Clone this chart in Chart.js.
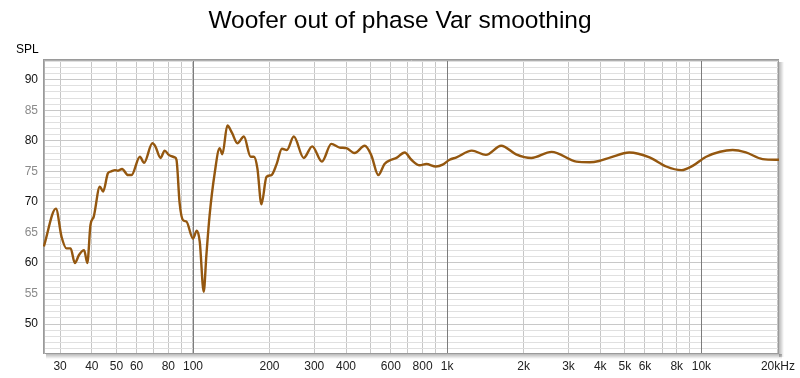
<!DOCTYPE html>
<html>
<head>
<meta charset="utf-8">
<script src="https://cdn.jsdelivr.net/npm/chart.js@4.4.1/dist/chart.umd.min.js"></script>
<style>
  html, body { margin: 0; padding: 0; background: #fff; }
  #wrap { width: 800px; height: 378px; }
</style>
</head>
<body>
<div id="wrap"><canvas id="chart" width="800" height="378"></canvas></div>
<script>
// frequency response
const freqs = [25.9, 28.9, 30.4, 31.8, 33.0, 34.3, 35.6, 37.3, 38.4, 39.5, 40.7, 43.0, 44.3, 46.3, 47.7,
  49.3, 50.7, 52.6, 55.5, 57.3, 61.8, 64.2, 69.2, 71.1, 74.5, 77.4, 80.3, 84.7, 86.1, 88.6, 91.4, 94.2,
  100, 103.5, 106.3, 110.2, 112.9, 116.3, 121.7, 127.3, 130.5, 136.5, 142.4, 149.5, 158.6, 168.6, 173.7,
  179.2, 185.9, 194.6, 203.6, 212.9, 223.9, 234, 249.2, 272.6, 294.5, 321.6, 350, 377.6, 401.3, 432.5,
  473.7, 502.5, 535.6, 566.8, 602.5, 631.6, 680.6, 723, 780, 828, 903, 960, 1022, 1088, 1250, 1420,
  1631, 1866, 2141, 2574, 3223, 3634, 3957, 4397, 5202, 6254, 7273, 8341, 9237, 10447, 13280, 14960,
  17410, 19600, 20200];
const spl = [62.7, 68.9, 64.3, 62.4, 62.4, 60.0, 61.3, 62.1, 60.0, 66.2, 67.6, 72.5, 71.7, 74.7, 75.0,
  75.2, 75.1, 75.4, 74.4, 74.4, 77.4, 76.4, 79.6, 79.1, 77.2, 78.4, 77.7, 77.3, 76.9, 69.8, 67.0, 66.8,
  64.0, 65.3, 63.5, 55.3, 61.3, 67.9, 74.7, 78.8, 77.8, 82.5, 81.3, 79.6, 80.7, 77.4, 77.4,
  75.5, 69.6, 74.1, 74.4, 76.1, 78.7, 78.5, 80.7, 77.2, 79.1, 76.6, 79.5, 78.9, 78.8, 78.0,
  79.2, 77.7, 74.4, 76.2, 76.9, 77.2, 78.1, 76.9, 76.0, 76.2, 75.8, 76.1, 76.9, 77.3, 78.4, 77.7,
  79.2, 77.8, 77.2, 78.2, 76.6, 76.5, 76.7, 77.3, 78.1, 77.3, 75.8, 75.2, 75.9, 77.4, 78.5, 78.1,
  77.0, 76.9, 76.9];

const xGridTicks = [30, 40, 50, 60, 70, 80, 90, 100, 200, 300, 400, 500, 600, 700, 800, 900,
  1000, 2000, 3000, 4000, 5000, 6000, 7000, 8000, 9000, 10000, 20000];
const decades = [100, 1000, 10000];
const xTickLabels = { 30: '30', 40: '40', 50: '50', 60: '60', 80: '80', 100: '100', 200: '200',
  300: '300', 400: '400', 600: '600', 800: '800', 1000: '1k', 2000: '2k', 3000: '3k', 4000: '4k',
  5000: '5k', 6000: '6k', 8000: '8k', 10000: '10k', 20000: '20kHz' };

const titleText = 'Woofer out of phase Var smoothing';
const yTitle = 'SPL';

const points = freqs.map((f, i) => ({ x: f, y: spl[i] }));

// title, axis caption, decade lines and the plot frame with its shadow
const framePlugin = {
  id: 'frame',
  beforeDatasetsDraw(chart) {
    const { ctx, chartArea: a } = chart;
    const xs = chart.scales.x;
    ctx.save();
    // decade lines on top of the light horizontal grid
    ctx.strokeStyle = '#7c7c7c';
    ctx.lineWidth = 1;
    ctx.beginPath();
    decades.forEach(d => {
      const px = Math.round(xs.getPixelForValue(d)) + 0.5;
      ctx.moveTo(px, a.top); ctx.lineTo(px, a.bottom);
    });
    ctx.stroke();
    // shadow right & bottom
    const sr = ctx.createLinearGradient(a.right, 0, a.right + 5, 0);
    sr.addColorStop(0, 'rgba(0,0,0,0.28)');
    sr.addColorStop(1, 'rgba(0,0,0,0)');
    ctx.fillStyle = sr;
    ctx.fillRect(a.right, a.top + 3, 5, a.bottom - a.top);
    const sb = ctx.createLinearGradient(0, a.bottom, 0, a.bottom + 5);
    sb.addColorStop(0, 'rgba(0,0,0,0.28)');
    sb.addColorStop(1, 'rgba(0,0,0,0)');
    ctx.fillStyle = sb;
    ctx.fillRect(a.left + 3, a.bottom, a.right - a.left, 5);
    ctx.strokeStyle = '#9a9a9a';
    ctx.strokeRect(a.left + 0.5, a.top + 0.5, a.right - a.left - 1, a.bottom - a.top - 1);
    ctx.strokeStyle = '#b0b0b0';
    ctx.beginPath();
    ctx.moveTo(a.left + 1.5, a.top + 1); ctx.lineTo(a.left + 1.5, a.bottom);
    ctx.moveTo(a.left + 1, a.top + 1.5); ctx.lineTo(a.right, a.top + 1.5);
    ctx.stroke();
    ctx.restore();
  },
  afterDraw(chart) {
    const { ctx } = chart;
    ctx.save();
    ctx.fillStyle = '#000';
    ctx.textAlign = 'center';
    ctx.textBaseline = 'middle';
    ctx.font = '24.5px "Liberation Sans", Arial, sans-serif';
    ctx.fillText(titleText, 400, 21);
    ctx.textAlign = 'left';
    ctx.font = '12px "Liberation Sans", Arial, sans-serif';
    ctx.fillText(yTitle, 16, 50);
    ctx.restore();
  }
};

const ctx = document.getElementById('chart').getContext('2d');
new Chart(ctx, {
  type: 'line',
  data: {
    datasets: [{
      data: points,
      borderColor: '#94570f',
      borderWidth: 2.4,
      pointRadius: 0,
      cubicInterpolationMode: 'monotone',
      fill: false,
    }],
  },
  options: {
    responsive: false,
    animation: false,
    events: [],
    layout: { padding: { top: 59, right: 21, left: 0, bottom: 0 } },
    plugins: { legend: { display: false }, tooltip: { enabled: false }, title: { display: false } },
    scales: {
      x: {
        type: 'logarithmic',
        min: 25.7,
        max: 20200,
        afterBuildTicks(scale) {
          scale.ticks = xGridTicks.map(v => ({ value: v }));
        },
        afterFit(scale) { scale.height = 24; },
        border: { display: false },
        grid: {
          drawTicks: false,
          color: '#c6c6c6',
          lineWidth: 1,
        },
        ticks: {
          autoSkip: false,
          maxRotation: 0,
          padding: 5,
          color: '#222',
          font: { family: '"Liberation Sans", Arial, sans-serif', size: 12 },
          callback: v => xTickLabels[v] || '',
        },
      },
      y: {
        min: 45.1,
        max: 93.4,
        afterFit(scale) { scale.width = 43; },
        border: { display: false },
        grid: {
          drawTicks: false,
          color: c => (c.tick && c.tick.value % 5 === 0 ? '#c8c8c8' : '#e0e0e0'),
          lineWidth: 1,
        },
        ticks: {
          stepSize: 1,
          includeBounds: false,
          autoSkip: false,
          padding: 5,
          color: c => (c.tick && c.tick.value % 10 === 0 ? '#111' : '#8a8a8a'),
          font: { family: '"Liberation Sans", Arial, sans-serif', size: 12 },
          callback: v => (v % 5 === 0 ? String(v) : ''),
        },
      },
    },
  },
  plugins: [framePlugin],
});
</script>
</body>
</html>
